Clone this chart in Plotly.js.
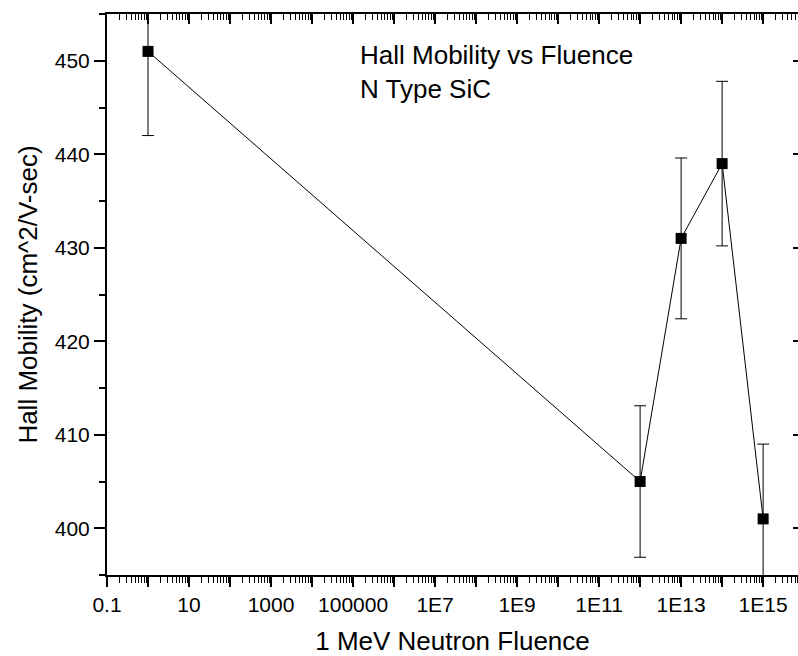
<!DOCTYPE html>
<html>
<head>
<meta charset="utf-8">
<script src="https://cdn.plot.ly/plotly-3.0.1.min.js"></script>
<style>html,body{margin:0;padding:0;background:#fff;overflow:hidden}</style>
</head>
<body>
<div id="chart" style="width:798px;height:656px"></div>
<script>
// Data
const fluence = [1, 1e12, 1e13, 1e14, 1e15];
const mobility = [451, 405, 431, 439, 401];
const mobilityErr = [9.0, 8.1, 8.6, 8.8, 8.0];
const xTickVals = [0.1, 1, 10, 100, 1000, 1e4, 1e5, 1e6, 1e7, 1e8, 1e9, 1e10, 1e11, 1e12, 1e13, 1e14, 1e15, 1e16];
const xTickText = ['0.1', '', '10', '', '1000', '', '100000', '', '1E7', '', '1E9', '', '1E11', '', '1E13', '', '1E15', ''];
const yTickVals = [400, 410, 420, 430, 440, 450];
const yTickText = ['400', '410', '420', '430', '440', '450'];
const annotationText = 'Hall Mobility vs Fluence<br>N Type SiC';
const xTitle = '1 MeV Neutron Fluence';
const yTitle = 'Hall Mobility (cm^2/V-sec)';

// minor log ticks (2..9 in each decade)
const minorX = [];
for (let e = -1; e <= 15; e++) {
  for (let d = 2; d <= 9; d++) minorX.push(d * Math.pow(10, e));
}

const FONT = 'Liberation Sans, Arial, sans-serif';
const xRange = [-1, 15.85];
const yRange = [395, 455];

const traces = [
  {
    x: fluence, y: mobility,
    type: 'scatter', mode: 'lines+markers',
    line: {color: '#000', width: 1},
    marker: {symbol: 'square', size: 11, color: '#000'},
    error_y: {type: 'data', array: mobilityErr, visible: true, color: '#000', thickness: 1, width: 6},
    showlegend: false, hoverinfo: 'x+y'
  },
  {
    x: fluence, y: mobility, xaxis: 'x2', yaxis: 'y2',
    type: 'scatter', mode: 'markers', marker: {opacity: 0},
    showlegend: false, hoverinfo: 'skip'
  }
];

const layout = {
  width: 798, height: 656,
  margin: {l: 107, r: 0, t: 14, b: 81},
  paper_bgcolor: '#fff', plot_bgcolor: '#fff',
  font: {family: FONT, color: '#000', size: 21},
  showlegend: false,
  xaxis: {
    type: 'log', range: xRange,
    tickmode: 'array', tickvals: xTickVals, ticktext: xTickText,
    ticks: 'outside', ticklen: 10, tickwidth: 2, tickcolor: '#000',
    minor: {tickmode: 'array', tickvals: minorX, ticks: 'outside', ticklen: 6, tickwidth: 1, tickcolor: '#000', showgrid: false},
    showline: true, linecolor: '#000', linewidth: 2,
    showgrid: false, zeroline: false,
    tickfont: {size: 21, family: FONT},
    title: {text: xTitle, font: {size: 26, family: FONT}, standoff: 18},
    automargin: false
  },
  xaxis2: {
    type: 'log', range: xRange, overlaying: 'x', side: 'top', anchor: 'y',
    tickmode: 'array', tickvals: xTickVals, ticktext: xTickVals.map(() => ''),
    ticks: 'inside', ticklen: 10, tickwidth: 2, tickcolor: '#000',
    minor: {tickmode: 'array', tickvals: minorX, ticks: 'inside', ticklen: 6, tickwidth: 1, tickcolor: '#000', showgrid: false},
    showline: true, linecolor: '#000', linewidth: 2,
    showgrid: false, zeroline: false, showticklabels: false,
    automargin: false
  },
  yaxis: {
    range: yRange,
    tickmode: 'array', tickvals: yTickVals, ticktext: yTickText,
    ticks: 'outside', ticklen: 11, tickwidth: 2, tickcolor: '#000',
    minor: {dtick: 5, ticks: 'outside', ticklen: 6, tickwidth: 2, tickcolor: '#000', showgrid: false},
    showline: true, linecolor: '#000', linewidth: 2,
    showgrid: false, zeroline: false,
    tickfont: {size: 21, family: FONT},
    title: {text: yTitle, font: {size: 26, family: FONT}, standoff: 10},
    automargin: false
  },
  yaxis2: {
    range: yRange, overlaying: 'y', side: 'right', anchor: 'x',
    tickmode: 'array', tickvals: yTickVals, ticktext: yTickVals.map(() => ''),
    ticks: 'inside', ticklen: 5, tickwidth: 2, tickcolor: '#000',
    showline: false, showgrid: false, zeroline: false, showticklabels: false,
    automargin: false
  },
  annotations: [{
    text: annotationText, xref: 'paper', yref: 'paper',
    x: 0.363, y: 0.957, xanchor: 'left', yanchor: 'top', align: 'left',
    showarrow: false, font: {size: 26, family: FONT, color: '#000'}
  }]
};

Plotly.newPlot('chart', traces, layout, {displayModeBar: false, staticPlot: true});
</script>
</body>
</html>
